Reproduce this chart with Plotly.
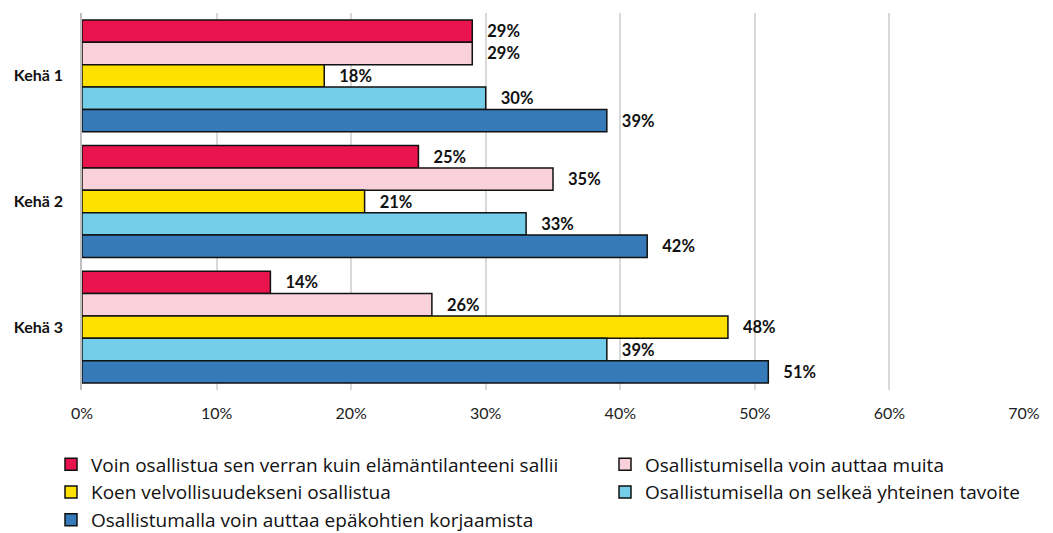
import plotly.graph_objects as go

categories = ["Kehä 1", "Kehä 2", "Kehä 3"]
series_names = [
    "Voin osallistua sen verran kuin elämäntilanteeni sallii",
    "Osallistumisella voin auttaa muita",
    "Koen velvollisuudekseni osallistua",
    "Osallistumisella on selkeä yhteinen tavoite",
    "Osallistumalla voin auttaa epäkohtien korjaamista",
]
voin_osallistua = [29, 25, 14]
auttaa_muita = [29, 35, 26]
velvollisuus = [18, 21, 48]
yhteinen_tavoite = [30, 33, 39]
epakohdat = [39, 42, 51]
series_values = [voin_osallistua, auttaa_muita, velvollisuus, yhteinen_tavoite, epakohdat]
colors = ["#E9134D", "#F9D1DB", "#FFE100", "#74CEE9", "#377AB9"]
legend_ids = ["legend", "legend2", "legend", "legend2", "legend"]
tick_vals = [0, 10, 20, 30, 40, 50, 60, 70]
tick_text = [f"{v}%" for v in tick_vals]

FONT = "Lato, Open Sans, sans-serif"
LEGEND_FONT = "Open Sans, Lato, sans-serif"
W, H = 1045, 525

fig = go.Figure()
for name, vals, col, lg in zip(series_names, series_values, colors, legend_ids):
    fig.add_trace(go.Bar(
        y=categories, x=vals, name=name, orientation="h",
        marker=dict(color=col, line=dict(color="#111111", width=1.5)),
        text=[f"\u00a0\u00a0\u00a0{v}%" for v in vals],
        textposition="outside",
        textfont=dict(family=FONT, size=16.5, color="#111111", weight="bold"),
        cliponaxis=False,
        hoverinfo="skip",
        legend=lg,
    ))

legend_common = dict(orientation="v", traceorder="normal", xref="container", yref="container",
                     xanchor="left", yanchor="top", y=1 - 437.5 / H,
                     font=dict(size=19, family=LEGEND_FONT, color="#111111"), itemclick=False,
                     tracegroupgap=0, bgcolor="rgba(0,0,0,0)")

fig.update_layout(
    width=W, height=H,
    barmode="group", bargap=0.11, bargroupgap=0,
    plot_bgcolor="white", paper_bgcolor="white",
    margin=dict(l=74, r=29, t=5, b=143, autoexpand=False),
    font=dict(family=FONT, size=16, color="#222222"),
    xaxis=dict(range=[0, 70], tickvals=tick_vals, ticktext=tick_text,
               showgrid=True, gridcolor="#D9D9D9", gridwidth=1.5,
               zeroline=False, showline=False, ticks="", automargin=False,
               ticklabelstandoff=12, tickfont=dict(size=16, family=FONT, color="#222222")),
    yaxis=dict(categoryorder="array", categoryarray=categories, autorange="reversed",
               showline=True, linecolor="#BFBFBF", linewidth=1.5, ticks="", automargin=False,
               ticklabelstandoff=14, tickfont=dict(size=16, family=FONT, color="#111111", weight="bold")),
    legend=dict(legend_common, x=43 / W),
    legend2=dict(legend_common, x=597 / W),
    showlegend=True,
)

fig.write_html("out.html")
